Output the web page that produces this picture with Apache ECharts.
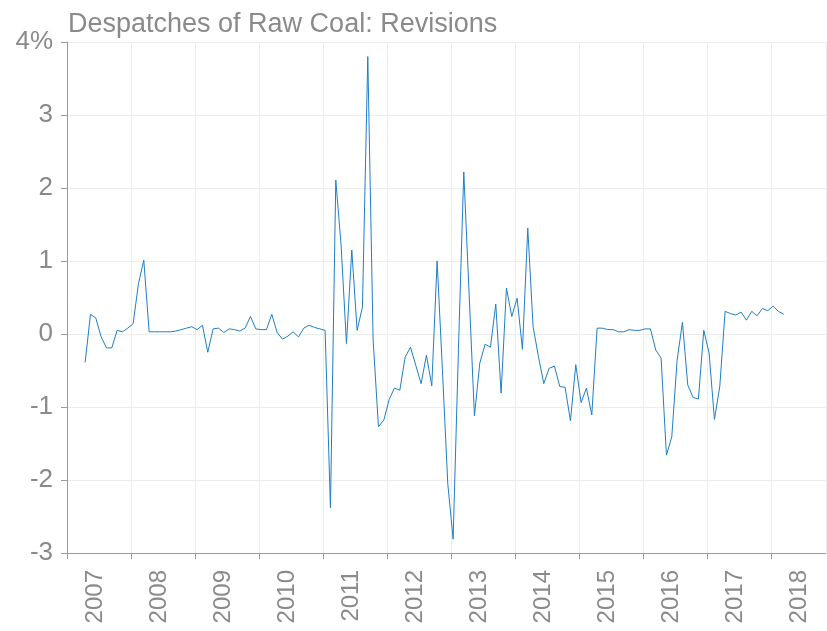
<!DOCTYPE html>
<html>
<head>
<meta charset="utf-8">
<script src="https://cdn.jsdelivr.net/npm/echarts@6/dist/echarts.min.js"></script>
<style>
html,body{margin:0;padding:0;background:#fff;}
#chart{width:827px;height:631px;}
</style>
</head>
<body>
<div id="chart"></div>
<script>
var titleText = 'Despatches of Raw Coal: Revisions';
var startYear = 2007, startMonth = 4;   // first observation: April 2007
var values = [
  -0.39, 0.27, 0.22, -0.04, -0.19, -0.19, 0.05, 0.03, 0.08,
  0.14, 0.69, 1.01, 0.03, 0.03, 0.03, 0.03, 0.03, 0.04, 0.06, 0.08, 0.10, 0.06,
  0.12, -0.25, 0.07, 0.08, 0.02, 0.07, 0.06, 0.04, 0.08, 0.24, 0.07, 0.06,
  0.06, 0.27, 0.02, -0.07, -0.03, 0.03, -0.04, 0.08, 0.12, 0.09, 0.07, 0.05,
  -2.38, 2.11, 1.21, -0.13, 1.15, 0.05, 0.37, 3.80, -0.08, -1.27, -1.18, -0.90,
  -0.74, -0.77, -0.32, -0.18, -0.43, -0.68, -0.29, -0.71, 1.00, -0.50, -2.05, -2.81,
  -0.21, 2.22, 0.55, -1.12, -0.40, -0.14, -0.18, 0.41, -0.81, 0.63, 0.24, 0.49,
  -0.21, 1.45, 0.10, -0.31, -0.68, -0.47, -0.44, -0.72, -0.73, -1.19, -0.42, -0.94,
  -0.74, -1.11, 0.08, 0.08, 0.06, 0.06, 0.03, 0.03, 0.06, 0.05, 0.05, 0.07,
  0.07, -0.22, -0.33, -1.66, -1.41, -0.36, 0.16, -0.70, -0.87, -0.89, 0.05, -0.26,
  -1.17, -0.72, 0.31, 0.28, 0.26, 0.30, 0.19, 0.31, 0.25, 0.35, 0.32, 0.38,
  0.31, 0.27
];
var yTicks = [-3, -2, -1, 0, 1, 2, 3, 4];
var xYears = [2007, 2008, 2009, 2010, 2011, 2012, 2013, 2014, 2015, 2016, 2017, 2018];

// month labels (YYYY-MM) for each observation
var months = [];
for (var i = 0; i < values.length; i++) {
  var mi = startMonth - 1 + i;
  var y = startYear + Math.floor(mi / 12);
  var mo = (mi % 12) + 1;
  months.push(y + '-' + (mo < 10 ? '0' + mo : mo));
}
function monthToYearFrac(s) {
  var p = s.split('-');
  return +p[0] + (+p[1] - 1 + 0.4) / 12;
}
var seriesData = months.map(function (m, i) { return [monthToYearFrac(m), values[i]]; });

var gray = '#8a8a8a';
var font = 'Liberation Sans, Arial, Helvetica, sans-serif';
var chart = echarts.init(document.getElementById('chart'), null, {renderer: 'canvas'});
chart.setOption({
  animation: false,
  backgroundColor: '#fff',
  title: {
    text: titleText,
    left: 63, top: 6,
    textStyle: {color: gray, fontSize: 27, fontWeight: 'normal', fontFamily: font}
  },
  grid: {left: 67, right: 1, top: 42, bottom: 78, containLabel: false},
  xAxis: {
    type: 'value',
    min: xYears[0],
    max: 2018.86,
    interval: 1,
    axisLine: {show: true, onZero: false, lineStyle: {color: '#9a9a9a', width: 1}},
    axisTick: {show: true, length: 6, lineStyle: {color: '#9a9a9a'}},
    splitLine: {show: true, lineStyle: {color: '#ececec', width: 1}},
    axisLabel: {
      rotate: 90, margin: 17, color: gray, fontSize: 24, fontFamily: font,
      verticalAlign: 'top', padding: [16, 0, 0, 0],
      showMaxLabel: false,
      formatter: function (v) { return xYears.indexOf(Math.round(v * 1000) / 1000) >= 0 ? String(v) : ''; }
    }
  },
  yAxis: {
    type: 'value',
    min: yTicks[0], max: yTicks[yTicks.length - 1], interval: 1,
    axisLine: {show: true, onZero: false, lineStyle: {color: '#9a9a9a', width: 1}},
    axisTick: {show: true, length: 6, lineStyle: {color: '#9a9a9a'}},
    splitLine: {show: true, lineStyle: {color: '#ececec', width: 1}},
    axisLabel: {
      color: gray, fontSize: 26, fontFamily: font, margin: 14,
      formatter: function (v) { return v === yTicks[yTicks.length - 1] ? v + '%' : String(v); }
    }
  },
  series: [{
    type: 'line',
    data: seriesData,
    showSymbol: false,
    symbol: 'none',
    lineStyle: {color: '#1f7fc4', width: 1},
    itemStyle: {color: '#1f7fc4'}
  }]
});
</script>
</body>
</html>
